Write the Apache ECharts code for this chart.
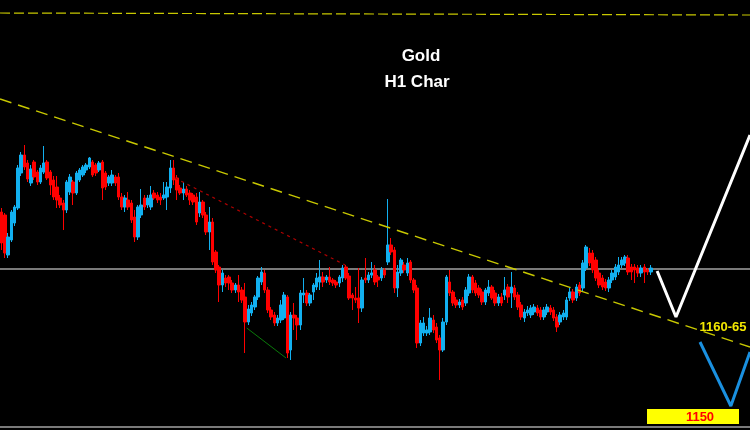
<!DOCTYPE html>
<html><head><meta charset="utf-8">
<script src="https://cdn.jsdelivr.net/npm/echarts@6/dist/echarts.min.js"></script>
<style>html,body{margin:0;padding:0;background:#000;}#c{width:750px;height:430px;}</style>
</head><body><div id="c"></div>
<script>
// Gold H1 candles: [open, close, low, high]
const candles = [
[1187.6,1181.4,1180,1188.4],[1187,1179.4,1178.4,1187.4],[1179,1182.6,1178.4,1183.4],[1182,1187.6,1181.6,1188],
[1185.4,1188.6,1184.8,1189],[1188.4,1196.4,1188,1197],[1195.4,1199,1194.8,1199.6],[1199,1196.6,1196,1201],
[1197.4,1194.2,1193.6,1198],[1193.4,1196.2,1192.8,1197],[1197.6,1194.6,1194,1198],[1195.6,1193.6,1193,1196],
[1193.6,1196.4,1193.2,1197],[1195.6,1197.4,1195.2,1200.8],[1197.6,1194.4,1194,1198],[1195.6,1193,1191,1196],
[1194,1190.6,1190,1194.8],[1192.6,1190,1188.4,1194.8],[1190.4,1189,1188.4,1191],[1189.4,1188,1184,1190],
[1188,1193.6,1187.4,1194],[1191.6,1194.6,1191,1195.2],[1193.6,1191.4,1189,1194],[1191.4,1195.4,1191,1195.8],
[1194,1196,1193.6,1196.4],[1195,1196.6,1194.6,1197],[1196,1197,1195.4,1197.4],[1196.6,1198.4,1196.2,1198.6],
[1197.6,1195,1194.6,1198],[1197,1195.4,1194.8,1197.4],[1196,1197.4,1195.6,1197.8],[1197.6,1192.4,1190,1198],
[1195.4,1192.6,1192,1195.8],[1193.4,1194.6,1192.8,1195],[1193.4,1195,1192.8,1196],[1194.6,1193.4,1192.8,1195],
[1194.6,1190.6,1190,1195.4],[1190.6,1188.6,1188,1191.4],[1188.6,1190.4,1187.6,1191],[1190,1188.6,1188,1191.6],
[1189.4,1186,1185.4,1190],[1186.6,1182.6,1181.6,1188],[1182.6,1188.6,1182,1189],[1187,1189,1186.4,1192.2],
[1190.4,1188.6,1188,1191],[1189,1190.4,1188.4,1191],[1188.6,1191,1188,1192.8],[1191.4,1190.4,1190,1192],
[1191,1190,1189.4,1191.6],[1190.6,1190,1189,1191.4],[1190.4,1191,1190,1193.6],[1190.6,1192.6,1188,1193.6],
[1192.4,1196.4,1191.4,1198],[1196.4,1194,1193,1198],[1194.4,1192,1190,1195],[1192.4,1191.4,1191,1193],
[1191.4,1192.2,1190,1193.6],[1192.2,1191,1190.6,1192.8],[1191.4,1190,1189,1192],[1191,1189.6,1189,1191.4],
[1190.6,1185.6,1185,1191.4],[1187.4,1189.6,1186.6,1191.6],[1189.6,1187,1186.4,1190],[1187,1183.6,1183,1187.6],
[1183.6,1185.6,1180,1188.6],[1185.6,1177.6,1177,1186.4],[1179.6,1176,1175.4,1180],[1176.6,1173,1169.6,1177],
[1173,1175.4,1171.6,1176],[1174.4,1173.4,1172.6,1175],[1174.6,1173.4,1172,1175],[1173.4,1172,1171.4,1174],
[1172,1173,1171.4,1173.4],[1173,1171.6,1169.6,1175],[1172,1170,1169.4,1172.6],[1170.6,1165.6,1159.4,1173.4],
[1165.6,1168.2,1165,1169],[1167.4,1169,1166.8,1169.6],[1168.6,1170.6,1168,1171],[1170.6,1174.4,1170,1174.8],
[1173.6,1175.6,1173,1176.6],[1175.4,1172,1171.4,1176],[1172,1168,1167.4,1172.6],[1168,1166.6,1166,1168.6],
[1167,1165.4,1164.8,1167.6],[1165.4,1166.4,1164.8,1167],[1166,1169,1165.4,1170],[1166.4,1171,1166,1171.6],
[1170.6,1159.4,1158.4,1171],[1160,1167,1158,1167.6],[1167,1166.4,1164,1169.4],[1166.4,1165,1162,1167],
[1165,1171.4,1164,1172],[1171,1171.4,1169.4,1174.4],[1171.4,1169.4,1168.8,1172],[1169.4,1171,1168.8,1171.4],
[1171.6,1173,1170,1173.4],[1172.6,1174.4,1172,1175.4],[1173.6,1174.6,1172,1178],[1174.6,1173.6,1172.6,1175.6],
[1174,1174.6,1173.4,1175],[1174.6,1173.6,1173,1176.6],[1174,1173.4,1172.8,1174.4],[1173.6,1173,1172.4,1174],
[1173.4,1174.6,1172.6,1175],[1174.4,1176.4,1173.6,1177],[1176.6,1174.4,1174,1177],[1174.8,1170.4,1170,1175.4],
[1171,1170.4,1168,1171.4],[1170.4,1170,1169.4,1172.6],[1170.4,1168.4,1165.4,1176.4],[1168.4,1174,1167.6,1174.6],
[1174.4,1174,1173.4,1178.4],[1174,1175,1173.4,1175.6],[1175,1175.4,1174.4,1177.6],[1176,1173.6,1173,1177],
[1174.6,1174,1172.6,1175],[1174.4,1176,1173.8,1176.6],[1176,1175,1174.4,1176.4],[1177.6,1181,1177,1190.2],
[1181,1179.6,1179,1182.4],[1180,1172.4,1171.4,1180.6],[1172.4,1175.6,1170.6,1177],[1175.4,1178,1174.8,1178.4],
[1177,1176,1175.4,1177.6],[1175.4,1177.4,1174.8,1178.4],[1177.6,1174,1173.4,1178],[1174,1172,1171.4,1174.4],
[1172.4,1161.4,1160.4,1173],[1161.4,1165.4,1160.8,1166],[1163.4,1165.4,1162.8,1166.6],[1163.4,1164,1162.8,1164.8],
[1163.6,1166.4,1163,1168.4],[1166,1164,1163.4,1167],[1164.6,1162,1161.4,1165.4],[1162.4,1160,1154,1163],
[1160,1165.6,1159.6,1166.4],[1165.6,1174.6,1165,1175],[1173.6,1171.4,1170.8,1176],[1171.6,1169.4,1168.8,1172],
[1170,1169,1168.4,1170.6],[1169,1169.6,1168.4,1170.2],[1170,1168.6,1168,1170.6],[1169.4,1172,1168.8,1172.6],
[1171.4,1174.6,1170.8,1175.2],[1174.6,1172,1171.4,1175],[1173.4,1171.4,1170.8,1174],[1172.4,1171,1170.4,1173],
[1171.6,1169.6,1169,1172.2],[1169.6,1172,1169,1172.4],[1171.4,1172.6,1170.8,1174],[1172.6,1170.4,1170,1173],
[1171.4,1169.4,1168.8,1172],[1169.4,1170.6,1168.8,1171.2],[1170.6,1169.4,1168.8,1171.4],[1171,1172,1170,1174.6],
[1172.6,1170.6,1169.4,1173.2],[1171.4,1172.6,1168.4,1175.6],[1172.4,1170.6,1170,1173],[1171,1168.6,1168,1171.6],
[1169,1166.6,1166,1169.6],[1166.4,1167.6,1165.6,1168.2],[1167.4,1168,1166.8,1168.8],[1167,1168.4,1166.4,1169],
[1167.6,1168.6,1167,1169.2],[1168.4,1167.4,1166.8,1169],[1168,1166.6,1166,1168.6],[1166.6,1168,1166,1168.6],
[1167.6,1168.6,1167,1169.2],[1168.4,1167.6,1167,1169],[1168,1166.4,1165.8,1168.6],[1166.6,1164.6,1163.6,1167.2],
[1165.6,1167,1165,1167.6],[1166.6,1167.4,1166,1168],[1166.6,1170,1166,1170.6],[1170.4,1171.6,1169.8,1172.4],
[1171.6,1170,1169.4,1172.2],[1170.4,1172.6,1169.8,1173.2],[1173,1171.4,1170.8,1173.6],[1172.4,1177.4,1171.8,1178],
[1176.4,1180.6,1175.8,1181],[1179.4,1177.4,1176.8,1180.4],[1179.4,1176,1175.4,1180],[1178,1174.4,1173.8,1178.6],
[1175.4,1173,1172.4,1176],[1174.4,1172.6,1172,1175],[1173.6,1172.4,1171.8,1174.2],[1172.4,1174,1171.6,1174.6],
[1174,1175.4,1173.4,1176],[1174.6,1176.6,1174,1177.2],[1175.6,1177,1175,1178.6],[1177,1178,1176.4,1178.6],
[1177.4,1178.6,1176.8,1179],[1178.4,1175.6,1175,1179],[1176.6,1175.6,1174,1177.2],[1176.6,1176,1173.4,1177.2],
[1176.4,1175.4,1174.6,1177],[1175.4,1176.4,1174.6,1177],[1176.6,1175.6,1173.4,1177.2],[1176,1175.6,1175,1176.4],
[1175.6,1176.4,1175,1177]
];
const slotCount = 231; // bar slots across the window (candles + projection space)
const categories = Array.from({length: slotCount}, (_, i) => 'H' + (i + 1));

// drawn lines: [bar index, price]
const topLine = [[-0.5, 1227.4], [230.5, 1227]];
const mainTrend = [[-0.5, 1210.2], [230.5, 1160.6]];
const redTrend = [[53.4, 1194.4], [105.8, 1177]];
const greenTrend = [[75.5, 1164.4], [87.6, 1158.4]];
const levelLine = [[-0.5, 1176.2], [230.5, 1176.2]];
const bottomLine = [[-0.5, 1144.6], [230.5, 1144.6]];
const whitePath = [[201.9, 1175.8], [207.7, 1166.6], [230.5, 1203]];
const bluePath = [[215.1, 1161.6], [224.6, 1148.8], [230.5, 1159.6]];

const titleLines = ['Gold', 'H1 Char'];
const targetLabels = ['1160-65', '1150'];

function lineSeries(data, color, width, type, z) {
  return {type: 'line', xAxisIndex: 1, yAxisIndex: 0, data: data, symbol: 'none', silent: true,
    lineStyle: {color: color, width: width, type: type}, z: z};
}

const FONT = '"Liberation Sans", Arial, sans-serif';
const chart = echarts.init(document.getElementById('c'), null, {renderer: 'canvas'});
chart.setOption({
  backgroundColor: '#000',
  animation: false,
  grid: {left: 0, right: 0, top: 0, bottom: 0},
  xAxis: [
    {type: 'category', data: categories, show: false, boundaryGap: true},
    {type: 'value', min: -0.5, max: slotCount - 0.5, show: false}
  ],
  yAxis: {type: 'value', min: 1144, max: 1230, show: false},
  series: [
    lineSeries(levelLine, '#7a7a7a', 2, 'solid', 1),
    lineSeries(bottomLine, '#7a7a7a', 2, 'solid', 1),
    {
      type: 'candlestick', xAxisIndex: 0, yAxisIndex: 0, data: candles, barWidth: 3, z: 2,
      itemStyle: {color: '#12b0f0', color0: '#ff0000', borderColor: '#12b0f0', borderColor0: '#ff0000', borderWidth: 1}
    },
    lineSeries(topLine, '#c8c800', 1.2, [10, 4], 3),
    lineSeries(mainTrend, '#c8c800', 1.4, [12, 7], 3),
    lineSeries(redTrend, '#b00000', 1.2, [3, 4], 3),
    lineSeries(greenTrend, '#0a7a0a', 1, 'solid', 3),
    lineSeries(whitePath, '#ffffff', 3, 'solid', 4),
    lineSeries(bluePath, '#1a90e0', 3, 'solid', 4)
  ],
  graphic: [
    {type: 'text', x: 421, y: 56, style: {text: titleLines[0], fill: '#fff', font: 'bold 17px ' + FONT, align: 'center', verticalAlign: 'middle'}},
    {type: 'text', x: 417, y: 82, style: {text: titleLines[1], fill: '#fff', font: 'bold 17px ' + FONT, align: 'center', verticalAlign: 'middle'}},
    {type: 'text', x: 723, y: 327, style: {text: targetLabels[0], fill: '#f2e600', font: 'bold 13px ' + FONT, align: 'center', verticalAlign: 'middle'}},
    {type: 'rect', shape: {x: 647, y: 409, width: 92, height: 15}, style: {fill: '#ffff00'}},
    {type: 'text', x: 700, y: 417, style: {text: targetLabels[1], fill: '#ff0000', font: 'bold 13px ' + FONT, align: 'center', verticalAlign: 'middle'}}
  ]
});
</script>
</body></html>
